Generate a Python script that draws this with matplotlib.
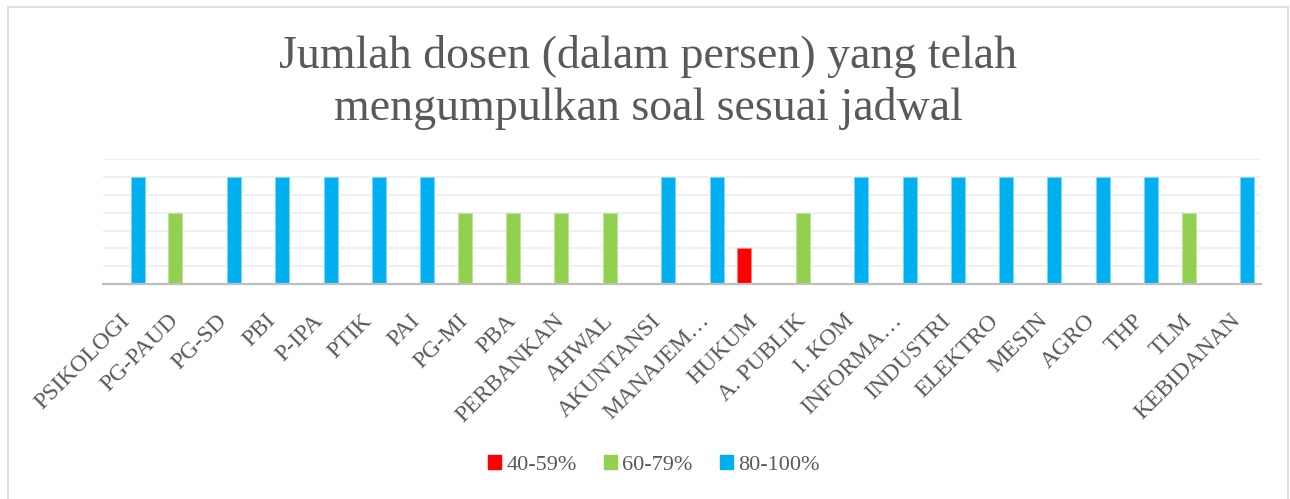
import numpy as np
import matplotlib.pyplot as plt
from matplotlib.patches import Patch, Rectangle
from matplotlib.transforms import ScaledTranslation


# -----------------------------
# Chart data
# -----------------------------
CATEGORIES = [
    "PSIKOLOGI", "PG-PAUD", "PG-SD", "PBI", "P-IPA", "PTIK", "PAI", "PG-MI",
    "PBA", "PERBANKAN", "AHWAL", "AKUNTANSI", "MANAJEM…", "HUKUM",
    "A. PUBLIK", "I. KOM", "INFORMA…", "INDUSTRI", "ELEKTRO", "MESIN",
    "AGRO", "THP", "TLM", "KEBIDANAN",
]

# level per group (0 = no bar in that series)
RED_40_59 = [0, 0, 0, 0, 0, 0, 0, 0, 0, 0, 0, 0, 0, 1, 0, 0, 0, 0, 0, 0, 0, 0, 0, 0]
GREEN_60_79 = [0, 2, 0, 0, 0, 0, 0, 2, 2, 2, 2, 0, 0, 0, 2, 0, 0, 0, 0, 0, 0, 0, 2, 0]
BLUE_80_100 = [3, 0, 3, 3, 3, 3, 3, 0, 0, 0, 0, 3, 3, 0, 0, 3, 3, 3, 3, 3, 3, 3, 0, 3]

SERIES_NAMES = ["40-59%", "60-79%", "80-100%"]
COLORS = ["#FF0000", "#92D050", "#00B0F0"]
EDGES = ["#FF8080", "#C0E4A0", "#7FD8F8"]

TITLE_LINES = ["Jumlah dosen (dalam persen) yang telah",
               "mengumpulkan soal sesuai jadwal"]

TEXT_COLOR = "#595959"
SERIF = ["Liberation Serif", "DejaVu Serif"]


# -----------------------------
# Plot
# -----------------------------
W, H = 1290, 499
fig = plt.figure(figsize=(W / 100, H / 100), dpi=100)

# light chart border like the Excel chart frame
fig.patches.append(Rectangle((8 / W, -0.02), (1288 - 8) / W, 1.02 - 7 / H,
                             transform=fig.transFigure, fill=False,
                             edgecolor="#D9D9D9", linewidth=1.2))

ax = fig.add_axes([103 / W, 1 - 284 / H, (1261 - 103) / W, (284 - 159.3) / H])

x = np.arange(len(CATEGORIES))
offset = 0.22
width = 0.29

series = [RED_40_59, GREEN_60_79, BLUE_80_100]
for i, vals in enumerate(series):
    vals = np.array(vals, dtype=float)
    mask = vals > 0
    ax.bar(x[mask] + (i - 1) * offset, vals[mask], width=width,
           color=COLORS[i], edgecolor=EDGES[i], linewidth=0.6, zorder=3)

ax.set_xlim(-0.5, len(CATEGORIES) - 0.5)
ax.set_ylim(0, 3.5)
ax.set_yticks(np.arange(0.5, 3.51, 0.5))
ax.yaxis.grid(True, color="#EDEDED", linewidth=1.2, zorder=0)
ax.tick_params(axis="y", left=False, labelleft=False)
ax.tick_params(axis="x", bottom=False, length=0, pad=27)

for side in ["top", "right", "left"]:
    ax.spines[side].set_visible(False)
ax.spines["bottom"].set_color("#BFBFBF")
ax.spines["bottom"].set_linewidth(1.6)
ax.spines["bottom"].set_zorder(4)

ax.set_xticks(x)
ax.set_xticklabels(CATEGORIES, rotation=45, ha="right", va="baseline",
                   rotation_mode="anchor", fontsize=17, color=TEXT_COLOR,
                   family=SERIF)
shift = ScaledTranslation(4 / 100, 0, fig.dpi_scale_trans)
for lbl in ax.get_xticklabels():
    lbl.set_transform(lbl.get_transform() + shift)

fig.text(648 / W, 1 - 67.7 / H, TITLE_LINES[0], ha="center", va="baseline",
         fontsize=33, color=TEXT_COLOR, family=SERIF)
fig.text(648 / W, 1 - 120 / H, TITLE_LINES[1], ha="center", va="baseline",
         fontsize=33, color=TEXT_COLOR, family=SERIF)

handles = [Patch(facecolor=c, edgecolor=c) for c in COLORS]
fig.legend(handles, SERIES_NAMES, loc="center", ncol=3,
           bbox_to_anchor=(654 / W, 1 - 465 / H), frameon=False,
           prop={"family": SERIF, "size": 16}, labelcolor=TEXT_COLOR,
           handlelength=0.55, handleheight=0.55, handletextpad=0.25,
           columnspacing=1.25)

fig.savefig("out.png", dpi=100)
